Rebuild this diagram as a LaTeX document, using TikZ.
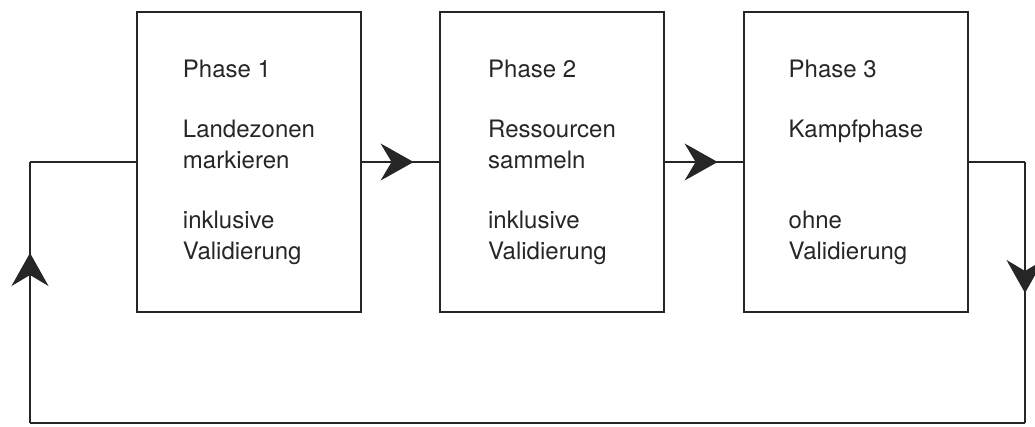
\documentclass[tikz,border=0pt]{standalone}
\usepackage{fontspec}
\setmainfont{TeX Gyre Heros}
\usetikzlibrary{arrows.meta,decorations.markings}
\tikzset{
  phase/.style={draw,line width=1.2pt,minimum width=224pt,minimum height=300pt,align=left,
    font=\fontsize{24}{30.3}\selectfont},
  midtip/.style={postaction={decorate,decoration={markings,
    mark=at position #1 with {\arrow{Stealth[length=33pt,width=37pt,inset=11pt]}}}}}
}
\begin{document}
\begin{tikzpicture}[x=1pt,y=-1pt,line width=1.2pt,color=black!85]
    \useasboundingbox (0,0) rectangle (1035,426);
    % die drei Phasen
    \node[phase] (p1) at (249,162) {Phase 1\\[30.3pt]Landezonen\\markieren\\[30.3pt]inklusive\\Validierung};
    \node[phase] (p2) at (552,162) {Phase 2\\[30.3pt]Ressourcen\\sammeln\\[30.3pt]inklusive\\Validierung};
    \node[phase] (p3) at (856,162) {Phase 3\\[30.3pt]Kampfphase\\[60.6pt]ohne\\Validierung};
    % Rueckfuehrung
    \coordinate (rt) at (1025,162);
    \coordinate (rb) at (1025,423);
    \coordinate (lb) at (30,423);
    \coordinate (lt) at (30,162);
    \draw[midtip=52pt] (p1) -- (p2);
    \draw[midtip=53pt] (p2) -- (p3);
    \draw (p3.east) -- (rt);
    \draw[midtip=131pt] (rt) -- (rb);
    \draw (rb) -- (lb);
    \draw[midtip=170pt] (lb) -- (lt);
    \draw (lt) -- (p1.west);
\end{tikzpicture}
\end{document}
